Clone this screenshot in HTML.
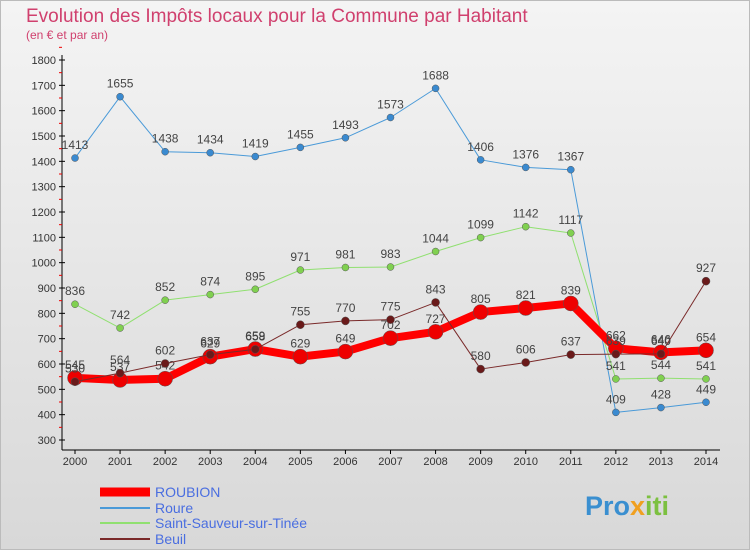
<!DOCTYPE html>
<html><head><meta charset="utf-8"><style>
body{margin:0;width:750px;height:550px;overflow:hidden;font-family:"Liberation Sans",sans-serif}
</style></head><body>
<svg width="750" height="550" viewBox="0 0 750 550">
<defs><linearGradient id="bg" x1="0" y1="0" x2="0" y2="1"><stop offset="0" stop-color="#f4f4f4"/><stop offset="1" stop-color="#d8d8d8"/></linearGradient></defs>
<rect x="0.5" y="0.5" width="749" height="549" fill="url(#bg)" stroke="#bbb"/>
<text x="26" y="22" font-size="19" fill="#d0406e">Evolution des Impôts locaux pour la Commune par Habitant</text>
<text x="26" y="39" font-size="12" fill="#d0406e">(en € et par an)</text>
<g id="axes"></g>
<g id="series"></g>
<g id="legend"></g>
<text x="585" y="515" font-size="27" font-weight="bold" fill="#3a8fd0">Pro<tspan fill="#f0a020">x</tspan><tspan fill="#7cc040">iti</tspan></text>
</svg>
<script>
const years=[2000,2001,2002,2003,2004,2005,2006,2007,2008,2009,2010,2011,2012,2013,2014];
const yTicks=[300,400,500,600,700,800,900,1000,1100,1200,1300,1400,1500,1600,1700,1800];
const roubion=[545,537,542,629,659,629,649,702,727,805,821,839,662,646,654];
const roure=[1413,1655,1438,1434,1419,1455,1493,1573,1688,1406,1376,1367,409,428,449];
const sauveur=[836,742,852,874,895,971,981,983,1044,1099,1142,1117,541,544,541];
const beuil=[530,564,602,637,658,755,770,775,843,580,606,637,639,640,927];
const NS="http://www.w3.org/2000/svg";
function X(i){return 75+i*(706-75)/14;}
function Y(v){return 440-(v-300)*380/1500;}
function mk(t,a,p){const e=document.createElementNS(NS,t);for(const k in a)e.setAttribute(k,a[k]);p.appendChild(e);return e;}
const ax=document.getElementById('axes');
const yl=mk('line',{x1:62,y1:55,x2:62,y2:450,stroke:'#000'},ax);


const xl=mk('line',{x1:62,y1:450,x2:720,y2:450,stroke:'#000'},ax);


yTicks.forEach(v=>{
 mk('line',{x1:59,y1:Y(v),x2:65,y2:Y(v),stroke:'#000'},ax);
 mk('line',{x1:59,y1:Y(v+50),x2:62,y2:Y(v+50),stroke:'#e00'},ax);
 const t=mk('text',{x:56,y:Y(v)+4,'font-size':11,'text-anchor':'end',fill:'#333'},ax);t.textContent=v;
 
 
});
years.forEach((y,i)=>{
 mk('line',{x1:X(i),y1:450,x2:X(i),y2:454,stroke:'#000'},ax);
 const t=mk('text',{x:X(i),y:465,'font-size':11,'text-anchor':'middle',fill:'#333'},ax);t.textContent=y;
 
 
});
const sg=document.getElementById('series');
function draw(data,color,dot,w,r,name){
 const g=mk('g',{},sg);
 
 
 mk('polyline',{points:data.map((v,i)=>X(i)+','+Y(v)).join(' '),fill:'none',stroke:color,'stroke-width':w,'stroke-linejoin':'round'},g);
 data.forEach((v,i)=>{
  const c=mk('circle',{cx:X(i),cy:Y(v),r:r,fill:dot,stroke:'#555','stroke-width':0.5},g);
  
  
  const t=mk('text',{x:X(i),y:Y(v)-9,'font-size':12,'text-anchor':'middle',fill:'#444'},g);t.textContent=v;
  
  
 });
}
draw(roure,'#4a9ad8','#3a8ad0',1,3.5,'roure');
draw(sauveur,'#90e070','#80d050',1,3.5,'saint-sauveur');
draw(roubion,'#ff0000','#ee0000',8,7.5,'roubion');
draw(beuil,'#7a2a2a','#6a1a1a',1,4,'beuil');
const lg=document.getElementById('legend');
[['ROUBION','#ff0000',9,492],['Roure','#4a9ad8',2,508],['Saint-Sauveur-sur-Tinée','#90e070',2,523],['Beuil','#7a2a2a',2,539]].forEach(([n,c,w,y])=>{
 const g=mk('g',{},lg);
 
 
 mk('line',{x1:100,y1:y,x2:150,y2:y,stroke:c,'stroke-width':w},g);
 const t=mk('text',{x:155,y:y+5,'font-size':14,fill:'#4a6ee0'},g);t.textContent=n;
});
</script>
</body></html>
